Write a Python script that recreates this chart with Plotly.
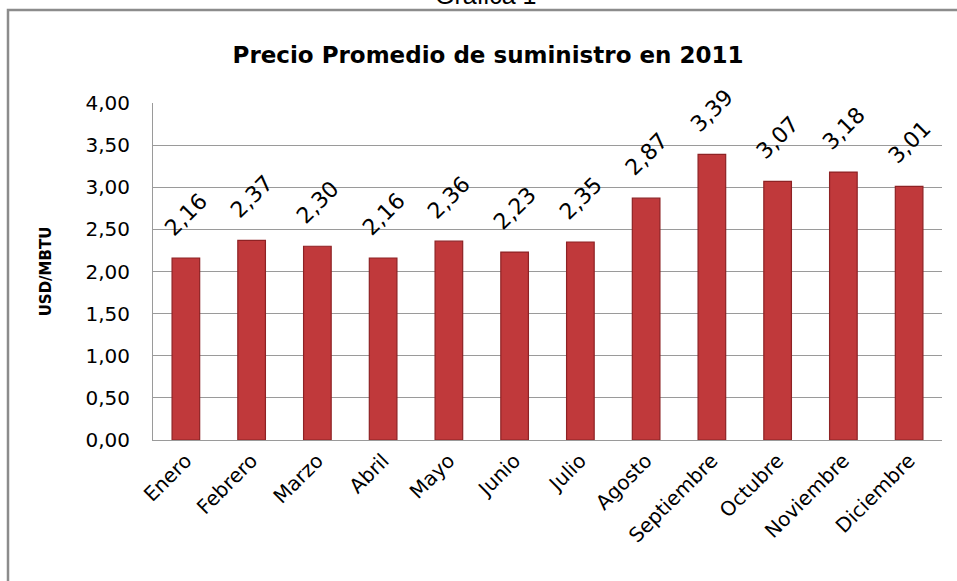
import plotly.graph_objects as go

months = ["Enero", "Febrero", "Marzo", "Abril", "Mayo", "Junio", "Julio",
          "Agosto", "Septiembre", "Octubre", "Noviembre", "Diciembre"]
prices = [2.16, 2.37, 2.30, 2.16, 2.36, 2.23, 2.35, 2.87, 3.39, 3.07, 3.18, 3.01]
y_ticks = [0, 0.5, 1.0, 1.5, 2.0, 2.5, 3.0, 3.5, 4.0]

FONT = "DejaVu Sans"

fig = go.Figure()
fig.add_trace(go.Bar(
    x=months, y=prices, width=0.42,
    marker=dict(color="#C0393B", line=dict(color="#8E2224", width=1.2)),
    hoverinfo="x+y",
))

for m, v in zip(months, prices):
    fig.add_annotation(
        x=m, y=v, text=f"{v:.2f}".replace(".", ","), showarrow=False,
        textangle=-45, xanchor="center", yanchor="middle", yshift=44,
        font=dict(family=FONT, size=22, color="#000000"),
    )

W, H = 957, 581
L, R, T, B = 153, 15, 103, 141
pw, ph = W - L - R, H - T - B

def px(xp):
    return (xp - L) / pw

def py(yp):
    return (H - B - yp) / ph

fig.add_shape(type="rect", xref="paper", yref="paper",
              x0=px(8), y0=py(640), x1=px(1000), y1=py(10),
              line=dict(color="#8C8C8C", width=2.5), fillcolor="rgba(0,0,0,0)", layer="below")

fig.add_annotation(xref="paper", yref="paper", x=px(485), y=py(11),
                   text="Grafica 1", showarrow=False, xanchor="center", yanchor="bottom",
                   font=dict(family="Liberation Sans", size=25, color="#000"))

fig.update_layout(
    width=W, height=H,
    margin=dict(l=L, r=R, t=T, b=B),
    paper_bgcolor="white", plot_bgcolor="white",
    separators=", ",
    title=dict(text="<b>Precio Promedio de suministro en 2011</b>",
               x=px(488), xanchor="center", xref="paper", y=1 - 55 / H, yanchor="middle",
               font=dict(family=FONT, size=23, color="#000")),
    showlegend=False,
    bargap=0.58,
    xaxis=dict(tickangle=-45, tickfont=dict(family=FONT, size=20, color="#000"),
               showline=True, linecolor="#9A9A9A", linewidth=1, ticks=""),
    yaxis=dict(range=[0, 4], tickvals=y_ticks, tickformat=".2f",
               showgrid=True, gridcolor="#9A9A9A", gridwidth=1,
               showline=True, linecolor="#9A9A9A", linewidth=1,
               ticks="outside", ticklen=18, tickcolor="rgba(0,0,0,0)",
               tickfont=dict(family=FONT, size=20, color="#000"),
               title=dict(text="<b>USD/MBTU</b>", standoff=30,
                          font=dict(family=FONT, size=15, color="#000")),
               zeroline=False),
)

fig.write_html("out.html", config={"displayModeBar": False},
               post_script="document.body.style.margin='0px';")
